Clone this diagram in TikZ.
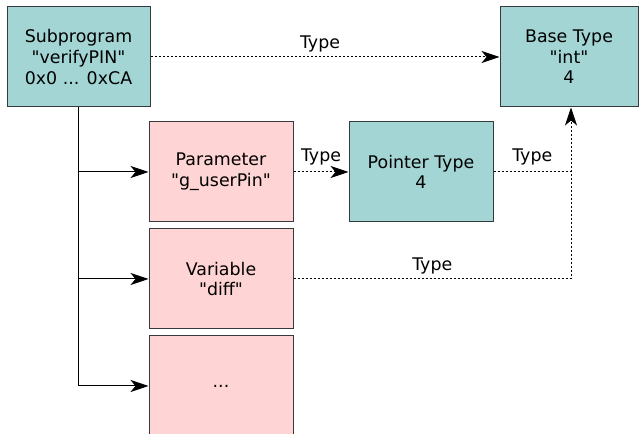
\documentclass[tikz,border=0pt]{standalone}
\usepackage{fontspec}
\setmainfont{DejaVu Sans}[Ligatures=TeXOff]
\usepackage{tikz}
\usetikzlibrary{arrows.meta}

\definecolor{typefill}{HTML}{A3D5D5}
\definecolor{varfill}{HTML}{FFD4D4}
\definecolor{boxline}{HTML}{36393D}

\begin{document}
\fontsize{8.7}{10.3}\selectfont
\begin{tikzpicture}[x=0.5pt,y=0.5pt,
   box/.style={rectangle,draw=boxline,line width=0.5pt,minimum width=72pt,
    minimum height=50pt,inner sep=+0.1cm,align=center},
   tbox/.style={box,fill=typefill},
   vbox/.style={box,fill=varfill},
   link/.style={line width=0.5pt,-{Stealth[length=9pt,width=6pt,inset=2.5pt]}},
   typelink/.style={link,dash pattern=on 1pt off 1pt},
   lbl/.style={inner sep=1pt}
    ]
  \useasboundingbox (0,0) rectangle (639,434);
  \begin{scope}
  \clip (0,0) rectangle (639,434);

  % -- top row
  \node[tbox,minimum width=71.5pt] at (78.5,377) (sub) {Subprogram\\"verifyPIN"\\0x0 ... 0xCA};
  \node[tbox,minimum width=69pt] at (569,377) (base) {Base Type\\"int"\\4};

  % -- middle rows
  \node[vbox] at (221,262) (param) {Parameter\\"g\_userPin"};
  \node[tbox] at (421,262) (ptr) {Pointer Type\\4};
  \node[vbox] at (221,155) (var) {Variable\\"diff"};
  \node[vbox] at (221,48) (more) {...};

  % -- children of the subprogram
  \draw[line width=0.5pt] (sub.south -| 78,0) -- (78,48) coordinate (trunk);
  \draw[link] (78,262) -- (param.west);
  \draw[link] (78,155) -- (var.west);
  \draw[link] (trunk) -- (more.west);

  % -- type references
  \draw[typelink] (sub.east) -- node[lbl,above=1pt,xshift=-2.5pt] {Type} (base.west);
  \draw[typelink] (param.east) -- node[lbl,above=2pt] {Type} (ptr.west);
  \coordinate (join) at (571,155);
  \draw[dash pattern=on 1pt off 1pt,line width=0.5pt] (ptr.east) -- node[lbl,above=2pt] {Type} (ptr.east -| join);
  \draw[typelink] (var.east) -- node[lbl,above=1pt] {Type} (join) -- (join |- base.south);
  \end{scope}
\end{tikzpicture}
\end{document}
